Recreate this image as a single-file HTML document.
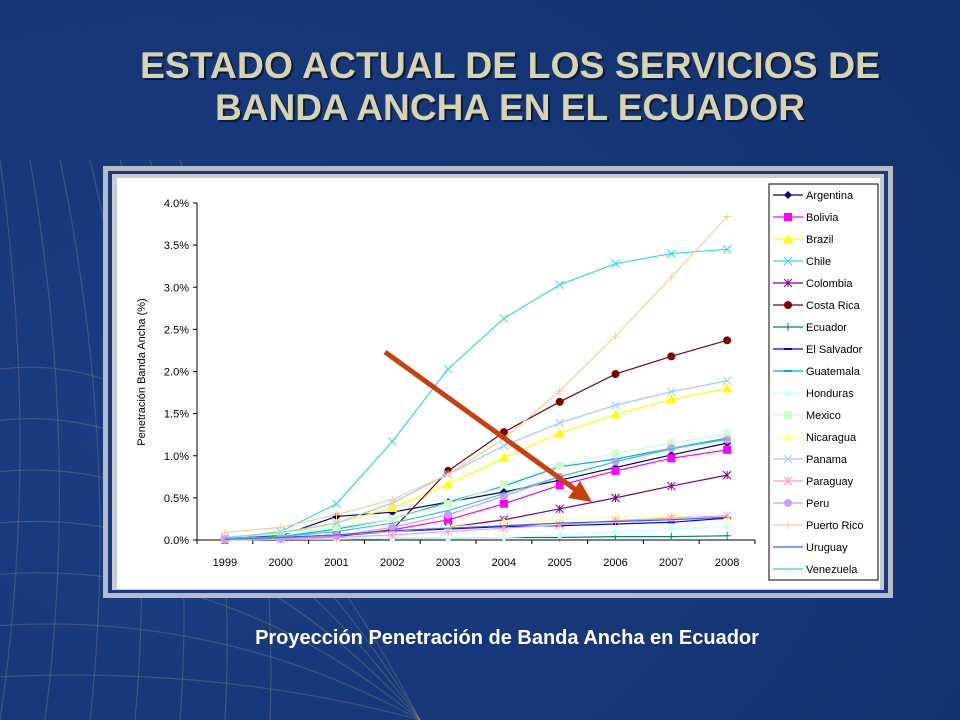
<!DOCTYPE html>
<html><head><meta charset="utf-8"><style>
html,body{margin:0;padding:0;width:960px;height:720px;overflow:hidden;background:#133578;}
svg{display:block;font-family:"Liberation Sans",sans-serif;}
</style></head><body>
<svg id="s" width="960" height="720" viewBox="0 0 960 720">
<defs><radialGradient id="bg" cx="0.2" cy="0.6" r="0.9"><stop offset="0" stop-color="#1a3d84"/><stop offset="1" stop-color="#12336f"/></radialGradient></defs>
<rect width="960" height="720" fill="url(#bg)"/>
<g id="deco" stroke="#9a9470" stroke-opacity="0.3" fill="none" stroke-width="1.2"></g>
<g font-weight="bold" font-size="37" text-anchor="middle">
<text x="512" y="80" fill="#0a1a3a" textLength="740" lengthAdjust="spacingAndGlyphs">ESTADO ACTUAL DE LOS SERVICIOS DE</text>
<text x="510" y="78" fill="#d8d4b0" textLength="740" lengthAdjust="spacingAndGlyphs">ESTADO ACTUAL DE LOS SERVICIOS DE</text>
<text x="512" y="122" fill="#0a1a3a" textLength="590" lengthAdjust="spacingAndGlyphs">BANDA ANCHA EN EL ECUADOR</text>
<text x="510" y="120" fill="#d8d4b0" textLength="590" lengthAdjust="spacingAndGlyphs">BANDA ANCHA EN EL ECUADOR</text>
</g>
<rect x="103" y="166" width="790" height="432" fill="#b8bcc4"/>
<rect x="108" y="171" width="780" height="422" fill="#1a3a80"/>
<rect x="112" y="174" width="772" height="416" fill="#c8ccd0"/>
<rect x="117" y="178" width="763" height="411" fill="#ffffff"/>
<g id="chart"></g>
<text x="507" y="644" fill="#ffffff" font-weight="bold" font-size="20" text-anchor="middle">Proyección Penetración de Banda Ancha en Ecuador</text>
</svg>
<script>
const years=['1999','2000','2001','2002','2003','2004','2005','2006','2007','2008'];
const yTicks=[0,0.5,1,1.5,2,2.5,3,3.5,4];
const yTickLabels=['0.0%','0.5%','1.0%','1.5%','2.0%','2.5%','3.0%','3.5%','4.0%'];
const names=['Argentina','Bolivia','Brazil','Chile','Colombia','Costa Rica','Ecuador','El Salvador','Guatemala','Honduras','Mexico','Nicaragua','Panama','Paraguay','Peru','Puerto Rico','Uruguay','Venezuela'];
const argentina=[0.02,0.05,0.28,0.33,0.45,0.57,0.71,0.86,1.01,1.15];
const bolivia=[0,0.02,0.04,0.12,0.24,0.43,0.65,0.82,0.97,1.07];
const brazil=[0.03,0.07,0.20,0.38,0.66,0.98,1.27,1.49,1.67,1.80];
const chile=[0.02,0.10,0.43,1.17,2.03,2.63,3.03,3.28,3.40,3.45];
const colombia=[0.01,0.02,0.05,0.10,0.15,0.24,0.37,0.50,0.64,0.77];
const costaRica=[0.01,0.02,0.05,0.12,0.82,1.28,1.64,1.97,2.18,2.37];
const ecuador=[0.00,0.01,0.01,0.02,0.02,0.03,0.03,0.04,0.04,0.05];
const elSalvador=[0.01,0.03,0.06,0.10,0.13,0.16,0.17,0.19,0.21,0.26];
const guatemala=[0.02,0.04,0.13,0.25,0.45,0.64,0.87,0.96,1.09,1.21];
const honduras=[0.00,0.01,0.01,0.02,0.02,0.03,0.06,0.10,0.13,0.16];
const mexico=[0.03,0.08,0.15,0.25,0.43,0.66,0.88,1.03,1.15,1.26];
const nicaragua=[0.01,0.02,0.06,0.10,0.15,0.21,0.24,0.27,0.28,0.27];
const panama=[0.03,0.09,0.20,0.44,0.78,1.12,1.39,1.60,1.76,1.89];
const paraguay=[0,0.01,0.03,0.06,0.10,0.14,0.18,0.23,0.26,0.29];
const peru=[0.01,0.02,0.05,0.15,0.30,0.52,0.75,0.93,1.09,1.19];
const puertoRico=[0.09,0.15,0.30,0.48,0.78,1.20,1.77,2.42,3.12,3.84];
const uruguay=[0.01,0.03,0.06,0.11,0.14,0.17,0.20,0.22,0.24,0.27];
const venezuela=[0.02,0.04,0.10,0.20,0.35,0.55,0.75,0.93,1.08,1.20];
const series=[argentina,bolivia,brazil,chile,colombia,costaRica,ecuador,elSalvador,guatemala,honduras,mexico,nicaragua,panama,paraguay,peru,puertoRico,uruguay,venezuela];
const colors=['#000080','#ff00ff','#ffff00','#33dddd','#800080','#800000','#008080','#0000ff','#00aaee','#ccffff','#ccffcc','#ffff99','#99ccff','#ff99cc','#cc99ff','#ffcc99','#3366ff','#33cccc'];
const markers=['diamond','square','triangle','x','star','circle','plus','dash','dash','diamond','square','triangle','x','star','circle','plus','none','none'];

const NS='http://www.w3.org/2000/svg';
function mk(tag,attrs,parent){const e=document.createElementNS(NS,tag);for(const k in attrs)e.setAttribute(k,attrs[k]);parent.appendChild(e);return e;}
const X0=197,X1=755,Y0=540,Y1=203;
const band=(X1-X0)/years.length;
const xs=i=>X0+band*(i+0.5);
const ys=v=>Y0-(v/4)*(Y0-Y1);
const g=document.getElementById('chart');

// decoration (lower-left globe-like grid)
const deco=document.getElementById('deco');
for(let k=0;k<7;k++){mk('path',{d:`M -50 ${380+k*50} Q 200 ${300+k*60} 420 ${720}`},deco);}
for(let k=0;k<7;k++){mk('path',{d:`M ${k*45} 720 Q ${40+k*40} 450 ${k*30} 160`},deco);}

const ax=mk('g',{},g);

mk('line',{x1:X0,y1:Y1,x2:X0,y2:Y0,stroke:'#000'},ax);
yTicks.forEach((t,i)=>{const y=ys(t);mk('line',{x1:X0-4,y1:y,x2:X0,y2:y,stroke:'#000'},ax);
 const tx=mk('text',{x:X0-8,y:y+4,'font-size':'11','text-anchor':'end',fill:'#000'},ax);tx.textContent=yTickLabels[i];
 });
const yt=mk('text',{x:0,y:0,'font-size':'11','text-anchor':'middle',fill:'#000',transform:`translate(145,372) rotate(-90)`},g);
yt.textContent='Penetración Banda Ancha (%)';

const xa=mk('g',{},g);

mk('line',{x1:X0,y1:Y0,x2:X1,y2:Y0,stroke:'#000'},xa);
for(let i=0;i<=years.length;i++){const x=X0+band*i;mk('line',{x1:x,y1:Y0,x2:x,y2:Y0+4,stroke:'#000'},xa);}
years.forEach((yr,i)=>{const t=mk('text',{x:xs(i),y:Y0+26,'font-size':'11','text-anchor':'middle',fill:'#000'},xa);t.textContent=yr;
 });

function marker(par,type,x,y,c,s){
 if(type==='diamond')mk('path',{d:`M${x} ${y-s}L${x+s} ${y}L${x} ${y+s}L${x-s} ${y}Z`,fill:c},par);
 else if(type==='square')mk('rect',{x:x-s,y:y-s,width:2*s,height:2*s,fill:c},par);
 else if(type==='triangle')mk('path',{d:`M${x} ${y-s-1}L${x+s+1} ${y+s}L${x-s-1} ${y+s}Z`,fill:c},par);
 else if(type==='circle')mk('circle',{cx:x,cy:y,r:s,fill:c},par);
 else if(type==='x')mk('path',{d:`M${x-s} ${y-s}L${x+s} ${y+s}M${x+s} ${y-s}L${x-s} ${y+s}`,stroke:c,'stroke-width':1},par);
 else if(type==='star')mk('path',{d:`M${x-s} ${y-s}L${x+s} ${y+s}M${x+s} ${y-s}L${x-s} ${y+s}M${x} ${y-s}L${x} ${y+s}`,stroke:c,'stroke-width':1},par);
 else if(type==='plus')mk('path',{d:`M${x-s} ${y}L${x+s} ${y}M${x} ${y-s}L${x} ${y+s}`,stroke:c,'stroke-width':1},par);
 else if(type==='dash')mk('path',{d:`M${x-s} ${y}L${x+s} ${y}`,stroke:c,'stroke-width':2},par);
}
series.forEach((arr,si)=>{
 const sg=mk('g',{},g);
 
 
 mk('polyline',{points:arr.map((v,i)=>xs(i)+','+ys(v)).join(' '),fill:'none',stroke:colors[si],'stroke-width':1.2},sg);
 arr.forEach((v,i)=>marker(sg,markers[si],xs(i),ys(v),colors[si],4));
});

const ar=mk('g',{},g);

mk('line',{x1:385,y1:352,x2:576,y2:490,stroke:'#c8400f','stroke-width':5},ar);
mk('path',{d:'M592 502 L568 498 L580 481 Z',fill:'#c8400f'},ar);

const lg=mk('g',{},g);

mk('rect',{x:769,y:184,width:109,height:396,fill:'#fff',stroke:'#000'},lg);
names.forEach((n,i)=>{const y=195+i*22;
 const e=mk('g',{},lg);
 
 mk('line',{x1:773,y1:y,x2:803,y2:y,stroke:colors[i],'stroke-width':1.2},e);
 marker(e,markers[i],788,y,colors[i],4);
 const t=mk('text',{x:806,y:y+4,'font-size':'11',fill:'#000'},e);t.textContent=n;});
</script>
</body></html>
